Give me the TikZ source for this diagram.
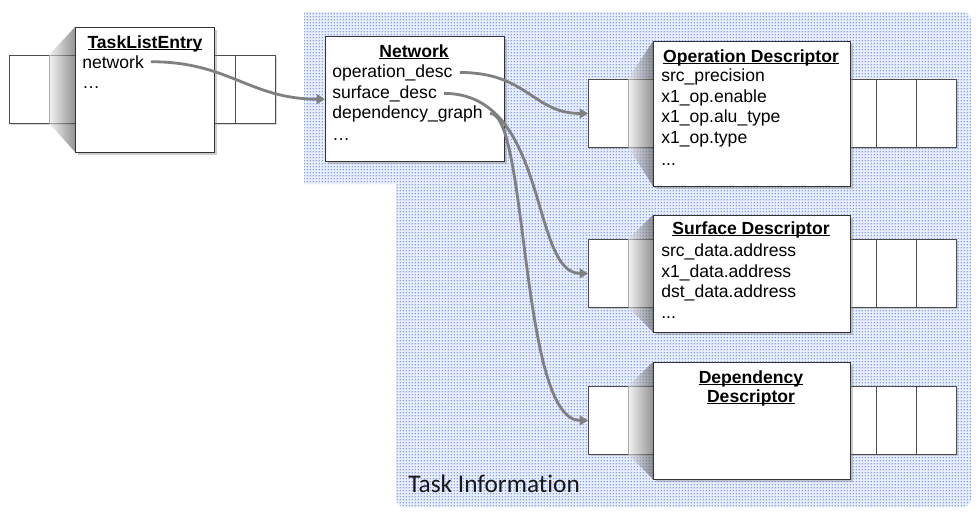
\documentclass[tikz,border=0pt]{standalone}
\usepackage{fontspec}
\setmainfont{Liberation Sans}
\newfontfamily\taskfont[Ligatures=NoCommon]{Carlito}
\usetikzlibrary{arrows.meta,shadows,patterns.meta}
\definecolor{linkgray}{RGB}{128,128,128}
\definecolor{dotblue}{RGB}{95,130,235}
\definecolor{areablue}{RGB}{232,238,252}
\tikzdeclarepattern{
  name=finedots,
  type=uncolored,
  bottom left={(0pt,0pt)},
  top right={(2.2pt,2.2pt)},
  tile size={(2.2pt,2.2pt)},
  code={\fill (1.1pt,1.1pt) circle (0.6pt);}
}
\newcommand\titleul[1]{\setbox0=\hbox{#1}\rlap{\rule[-1.6pt]{\wd0}{0.8pt}}\box0}
\begin{document}
\begin{tikzpicture}[x=0.025cm,y=-0.025cm,
  every node/.style={font=\fontsize{12.5}{15}\selectfont},
  cell/.style={draw=black!70,fill=white,line width=0.6pt,anchor=north west,inner sep=0pt,
    minimum width=1cm,minimum height=1.7cm,
    drop shadow={shadow xshift=1pt,shadow yshift=-1.2pt,opacity=0.3}},
  card/.style={draw=black!80,fill=white,line width=0.9pt,anchor=north west,inner sep=0pt,
    drop shadow={shadow xshift=1.6pt,shadow yshift=-1.6pt,opacity=0.4}},
  title/.style={anchor=base,inner sep=0pt,font=\fontsize{12.5}{15}\selectfont\bfseries},
  item/.style={anchor=base west,inner sep=0pt},
  link/.style={draw=linkgray,line width=2pt,shorten <=5pt,-{Triangle[length=6pt,width=7pt]}},
  fold/.style={left color=black!8,right color=black!70,opacity=0.6}]
\useasboundingbox (0,0) rectangle (978,516);
% task information area
\fill[areablue] (304,12) [rounded corners=6pt] -- (971,12) -- (971,507)
  -- (396,507) [sharp corners] -- (396,184) -- (304,184) -- cycle;
\fill[pattern=finedots,pattern color=dotblue] (304,12) [rounded corners=6pt] -- (971,12) -- (971,507)
  -- (396,507) [sharp corners] -- (396,184) -- (304,184) -- cycle;
\node[anchor=base west,inner sep=0pt,text=black!90,font=\taskfont\fontsize{18}{20}\selectfont] (taskinfo) at (408,492) {Task Information};
% task list entry
\node[cell] (tleL1) at (9,55) {};
\node[cell] (tleL2) at (49,55) {};
\node[cell] (tleR1) at (195,55) {};
\node[cell] (tleR2) at (235,55) {};
\shade[fold] (49,55) -- (75,27) -- (75,152) -- (49,123) -- cycle;
\node[card,minimum width=3.475cm,minimum height=3.125cm] (tle) at (75,27) {};
\node[title] (tleTitle) at (145,48) {\titleul{TaskListEntry}};
\node[item] (tleNet) at (82,68) {network};
\node[item] (tleMore) at (82,88) {…};
% network
\node[card,minimum width=4.475cm,minimum height=3.125cm] (net) at (325,36) {};
\node[title] (netTitle) at (414,57) {\titleul{Network}};
\node[item] (netOp) at (332,77) {operation\_desc};
\node[item] (netSrf) at (332,98) {surface\_desc};
\node[item] (netDep) at (332,118) {dependency\_graph};
\node[item] (netMore) at (332,140) {…};
% operation descriptor
\node[cell] (opdL1) at (588,79) {};
\node[cell] (opdL2) at (628,79) {};
\node[cell] (opdR1) at (836,79) {};
\node[cell] (opdR2) at (876,79) {};
\node[cell] (opdR3) at (916,79) {};
\shade[fold] (628,79) -- (653,41) -- (653,186) -- (628,147) -- cycle;
\node[card,minimum width=4.925cm,minimum height=3.625cm] (opd) at (653,41) {};
\node[title] (opdTitle) at (751,62) {\titleul{Operation Descriptor}};
\node[item] (opdA) at (661,81) {src\_precision};
\node[item] (opdB) at (661,102) {x1\_op.enable};
\node[item] (opdC) at (661,122) {x1\_op.alu\_type};
\node[item] (opdD) at (661,143) {x1\_op.type};
\node[item] (opdMore) at (661,165) {...};
% surface descriptor
\node[cell] (srfL1) at (588,239) {};
\node[cell] (srfL2) at (628,239) {};
\node[cell] (srfR1) at (836,239) {};
\node[cell] (srfR2) at (876,239) {};
\node[cell] (srfR3) at (916,239) {};
\shade[fold] (628,239) -- (653,215) -- (653,332) -- (628,307) -- cycle;
\node[card,minimum width=4.925cm,minimum height=2.925cm] (srf) at (653,215) {};
\node[title] (srfTitle) at (751,234) {\titleul{Surface Descriptor}};
\node[item] (srfA) at (661,256) {src\_data.address};
\node[item] (srfB) at (661,277) {x1\_data.address};
\node[item] (srfC) at (661,297) {dst\_data.address};
\node[item] (srfMore) at (661,318) {...};
% dependency descriptor
\node[cell] (depL1) at (588,386) {};
\node[cell] (depL2) at (628,386) {};
\node[cell] (depR1) at (836,386) {};
\node[cell] (depR2) at (876,386) {};
\node[cell] (depR3) at (916,386) {};
\shade[fold] (628,386) -- (653,362) -- (653,479) -- (628,454) -- cycle;
\node[card,minimum width=4.925cm,minimum height=2.925cm] (dep) at (653,362) {};
\node[title] (depTitle) at (751,383) {\titleul{Dependency}};
\node[title] (depTitleB) at (751,402) {\titleul{Descriptor}};
% pointers
\draw[link] (tleNet.east) .. controls +(85,0) and +(-75,0) .. (net.west);
\draw[link] (netOp.east) .. controls +(75,0) and +(-55,0) .. (opdL1.west);
\draw[link] (netSrf.east) .. controls +(112,0) and +(-58,0) .. (srfL1.west);
\draw[link] (netDep.east) .. controls +(45,0) and +(-68,0) .. (depL1.west);
\end{tikzpicture}
\end{document}
